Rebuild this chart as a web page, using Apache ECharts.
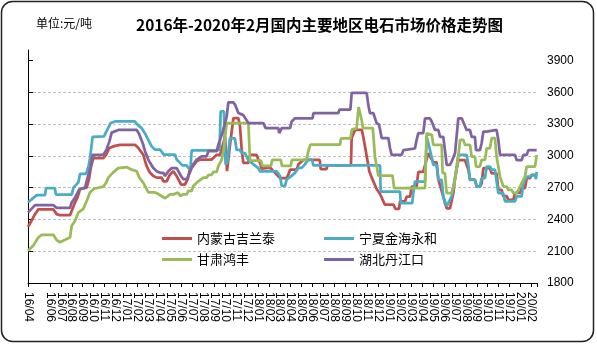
<!DOCTYPE html>
<html>
<head>
<meta charset="utf-8">
<script src="https://cdn.jsdelivr.net/npm/echarts@6/dist/echarts.min.js"></script>
<style>html,body{margin:0;padding:0;background:#fff;}#c{width:597px;height:344px;}</style>
</head>
<body>
<div id="c"></div>
<script>
// month tick labels (index 0 = 2016/04)
var monthLabels = ['16/04','16/05','16/06','16/07','16/08','16/09','16/10','16/11','16/12',
  '17/01','17/02','17/03','17/04','17/05','17/06','17/07','17/08','17/09','17/10','17/11','17/12',
  '18/01','18/02','18/03','18/04','18/05','18/06','18/07','18/08','18/09','18/10','18/11','18/12',
  '19/01','19/02','19/03','19/04','19/05','19/06','19/07','19/08','19/09','19/10','19/11','19/12',
  '20/01','20/02'];
var seriesNames = ['内蒙古吉兰泰','宁夏金海永和','甘肃鸿丰','湖北丹江口'];
// [month position since 2016/04, price 元/吨]
var neimeng = [[0,2330],[0.33,2390],[0.64,2450],[0.94,2495],[2.31,2495],[2.62,2450],[2.92,2440],[3.84,2440],[3.99,2480],[4.29,2560],[4.51,2605],[4.75,2685],[5.36,2700],[5.57,2780],[5.75,2895],[5.97,2980],[6.88,2980],[7.13,3010],[7.43,3075],[7.95,3095],[8.41,3105],[9.77,3105],[10.08,3075],[10.54,3010],[10.78,2920],[10.99,2870],[11.15,2840],[11.45,2810],[11.76,2795],[12.21,2795],[12.37,2760],[12.67,2760],[12.97,2825],[13.28,2855],[13.58,2810],[13.73,2780],[13.98,2730],[14.34,2730],[14.59,2780],[14.8,2880],[15.1,2905],[15.26,2905],[15.41,2950],[15.71,2965],[16.78,2965],[16.93,2980],[17.24,3010],[17.54,3010],[17.85,3120],[18.0,3185],[18.1,3185],[18.18,2856],[18.3,2856],[18.45,3100],[18.76,3356],[19.22,3356],[19.37,3280],[19.52,3059],[19.67,2934],[20.13,2934],[20.3,3010],[20.89,3010],[21.04,2966],[21.2,2934],[21.34,2880],[22.11,2890],[22.57,2840],[23.02,2790],[23.63,2790],[23.79,2825],[23.94,2870],[24.55,2870],[24.7,2920],[25.16,2962],[26.65,2962],[26.74,2875],[27.27,2875],[27.35,2910],[29.5,2910],[29.57,3170],[29.88,3245],[30.5,3245],[30.65,3170],[30.94,3000],[31.18,2855],[31.4,2795],[31.55,2795],[31.86,2685],[32.16,2640],[32.6,2540],[33.4,2540],[33.55,2500],[33.9,2500],[33.98,2570],[34.44,2570],[34.59,2615],[34.9,2615],[35.05,2710],[35.5,2710],[35.66,2850],[36.11,2850],[36.57,3025],[36.72,3025],[37.03,2940],[37.33,2940],[37.49,2775],[37.64,2775],[37.94,2615],[38.09,2555],[38.25,2505],[38.55,2505],[38.86,2650],[39.01,2790],[39.31,2960],[39.92,2960],[40.23,2870],[40.38,2775],[40.83,2775],[40.99,2710],[41.29,2710],[41.44,2740],[41.6,2885],[42.2,2885],[42.36,2835],[42.81,2835],[42.97,2680],[43.27,2680],[43.42,2620],[43.73,2620],[43.88,2585],[44.34,2585],[44.49,2650],[44.95,2650],[45.1,2695],[45.4,2695],[45.56,2790],[45.86,2790],[46.01,2820],[46.47,2820]];
var ningxia = [[0,2560],[0.33,2590],[0.8,2630],[1.55,2630],[1.65,2695],[2.45,2695],[2.55,2635],[4.0,2635],[4.15,2700],[4.6,2750],[4.75,2830],[5.3,2830],[5.5,2890],[5.65,2965],[5.9,3180],[6.95,3185],[7.15,3230],[7.35,3270],[7.55,3310],[7.95,3325],[9.75,3325],[10,3295],[10.4,3260],[10.7,3210],[11,3150],[11.3,3090],[11.6,3060],[12.06,3060],[12.4,3012],[13.43,3012],[13.58,2966],[13.73,2966],[13.89,2934],[14.1,2910],[14.5,2910],[14.65,2887],[14.85,2887],[14.95,3053],[17.3,3053],[17.5,3060],[17.6,3420],[17.9,3420],[18.05,2920],[18.2,2940],[18.45,3165],[18.9,3165],[19.06,3056],[19.36,3056],[19.52,3027],[19.82,3027],[20.13,2960],[20.6,2920],[21.04,2885],[21.19,2855],[22.72,2855],[23.02,2810],[23.18,2716],[23.48,2716],[23.63,2778],[23.94,2800],[24.39,2840],[24.7,2887],[25.0,2887],[25.3,2920],[25.6,2966],[25.95,2966],[26.07,2910],[32.16,2910],[32.22,2662],[33.98,2662],[34.06,2555],[35.1,2555],[35.2,2650],[35.35,2758],[36.27,2758],[36.42,3182],[36.57,3182],[36.72,3057],[37.03,2915],[37.33,2915],[37.49,2774],[37.79,2774],[37.94,2617],[38.25,2523],[38.4,2523],[38.7,2617],[39.01,2790],[39.16,2790],[39.31,3009],[40.07,3009],[40.23,2915],[40.38,2774],[40.83,2774],[40.99,2711],[41.29,2711],[41.44,2790],[41.75,2790],[41.9,2900],[42.2,2900],[42.36,2870],[42.66,2870],[42.81,2758],[42.97,2648],[43.42,2648],[43.58,2570],[44.49,2570],[44.64,2617],[45.1,2617],[45.25,2743],[45.56,2805],[45.86,2805],[46.01,2821],[46.32,2821],[46.4,2780],[46.47,2850]];
var gansu = [[0,2105],[0.49,2155],[0.94,2230],[1.25,2255],[2.31,2255],[2.62,2205],[2.92,2185],[3.53,2215],[3.84,2230],[3.99,2340],[4.29,2385],[4.6,2465],[5.05,2500],[5.36,2575],[5.66,2655],[6.03,2690],[6.88,2710],[7.13,2745],[7.34,2795],[7.73,2840],[8.25,2885],[9.01,2895],[9.47,2870],[9.93,2855],[10.17,2795],[10.54,2745],[10.99,2655],[11.6,2655],[11.9,2640],[12.52,2600],[12.67,2590],[12.97,2637],[13.28,2637],[13.43,2653],[13.73,2653],[13.89,2622],[14.04,2622],[14.19,2637],[14.5,2637],[14.65,2669],[14.95,2669],[15.1,2716],[15.56,2760],[16.02,2795],[16.32,2795],[16.48,2820],[16.78,2820],[16.93,2850],[17.24,2850],[17.39,2903],[17.54,2903],[17.7,2966],[17.85,3044],[18.0,3169],[18.15,3309],[20.13,3309],[20.28,2955],[21.3,2955],[21.4,2905],[22.2,2905],[22.3,2962],[23.1,2962],[23.2,2905],[24.0,2905],[24.1,2962],[25.45,2962],[25.6,3044],[25.8,3106],[28.5,3106],[28.6,3165],[29.45,3165],[29.6,3250],[30.02,3260],[30.2,3460],[30.33,3460],[30.5,3330],[30.6,3262],[31.5,3262],[31.7,2990],[31.85,2905],[32.0,2815],[33.3,2815],[33.45,2695],[36.27,2695],[36.42,3214],[36.57,3200],[36.88,3200],[37.03,3104],[37.79,3104],[37.88,2837],[38.09,2837],[38.25,2648],[38.7,2648],[38.8,2633],[39.01,2774],[39.31,2994],[39.47,3151],[39.77,3151],[39.92,3104],[40.38,3104],[40.53,2994],[40.83,2994],[40.93,2900],[41.29,2900],[41.44,2962],[41.75,2962],[41.9,3072],[42.2,3072],[42.36,3167],[42.66,3167],[42.81,2994],[42.97,2994],[43.12,2805],[43.27,2805],[43.42,2711],[43.73,2711],[43.88,2680],[44.19,2680],[44.34,2648],[44.64,2648],[44.8,2680],[45.1,2743],[45.25,2743],[45.4,2805],[45.56,2900],[46.32,2900],[46.47,3009]];
var hubei = [[0,2465],[0.64,2535],[2.31,2535],[2.62,2510],[3.84,2510],[3.99,2560],[4.29,2605],[4.69,2685],[5.21,2700],[5.42,2785],[5.72,2895],[5.91,3010],[6.88,3010],[7.13,3050],[7.43,3135],[7.64,3220],[8.25,3245],[9.93,3245],[10.14,3210],[10.48,3120],[10.69,3045],[10.99,2965],[11.15,2935],[11.45,2885],[11.76,2855],[12.06,2840],[12.37,2840],[12.52,2810],[12.82,2855],[13.13,2885],[13.58,2885],[13.73,2870],[13.98,2810],[14.19,2780],[14.5,2780],[14.65,2810],[14.89,2870],[15.1,2920],[15.41,2965],[15.87,2995],[16.32,2995],[16.48,3045],[17.24,3045],[17.39,3105],[17.75,3215],[18.15,3370],[18.3,3505],[18.76,3505],[18.91,3485],[19.22,3405],[19.67,3385],[20.13,3310],[21.5,3310],[21.71,3262],[22.87,3262],[22.95,3216],[23.1,3216],[23.18,3262],[23.94,3262],[24.09,3325],[24.39,3355],[26.0,3355],[26.07,3403],[28.35,3403],[28.45,3438],[29.45,3438],[29.57,3595],[30.94,3595],[31.09,3480],[31.24,3403],[31.55,3403],[31.85,3309],[32.05,3300],[32.16,3250],[32.31,3169],[32.92,3169],[33.07,3075],[33.22,3010],[34.14,3010],[34.29,3055],[35.35,3070],[35.5,3150],[35.66,3215],[36.11,3215],[36.27,3355],[36.72,3355],[36.88,3325],[37.18,3245],[37.49,3245],[37.64,3180],[37.94,3180],[38.09,3055],[38.25,2915],[38.55,2915],[38.7,2945],[38.86,2945],[39.01,3025],[39.16,3025],[39.31,3355],[39.62,3355],[39.77,3340],[40.07,3245],[40.38,3245],[40.53,3180],[40.83,3180],[40.93,3055],[41.29,3055],[41.44,3120],[41.6,3230],[41.9,3230],[42.05,3245],[42.81,3245],[42.97,3150],[43.12,3010],[44.49,3010],[44.64,2960],[45.1,2960],[45.25,3010],[45.56,3010],[45.71,3055],[46.47,3055]];
var yTicks = [1800,2100,2400,2700,3000,3300,3600,3900];
var colors = ['#C0504D','#4BACC6','#9BBB59','#8064A2'];

var chart = echarts.init(document.getElementById('c'), null, {renderer:'canvas', width:597, height:344});
var labelFont = {fontFamily:'Liberation Sans', fontSize:12, color:'#000'};
function mkSeries(name, data, color){
  return {name:name, type:'line', data:data, showSymbol:false, symbol:'none', color:color,
    lineStyle:{width:2.75, color:color}, animation:false};
}
chart.setOption({
  backgroundColor:'#fff',
  animation:false,
  graphic:[{type:'rect', shape:{x:1.5,y:1.5,width:592,height:340,r:11},
    style:{fill:'none', stroke:'#222', lineWidth:1.5}, z:-1}],
  title:[
    {text:'2016年-2020年2月国内主要地区电石市场价格走势图', left:136, top:17, padding:0,
     textStyle:{fontFamily:'Noto Sans CJK SC', fontWeight:'bold', fontSize:15.5, color:'#000'}},
    {text:'单位:元/吨', left:36, top:17, padding:0,
     textStyle:{fontFamily:'Noto Sans CJK SC', fontWeight:'normal', fontSize:12, color:'#000'}}
  ],
  legend:[
    {data:[seriesNames[0], seriesNames[2]], orient:'vertical', left:162, top:232, padding:0,
     itemWidth:30, itemHeight:3, itemGap:8, icon:'rect',
     textStyle:{fontFamily:'Noto Sans CJK SC', fontSize:13, color:'#000'}},
    {data:[seriesNames[1], seriesNames[3]], orient:'vertical', left:324, top:232, padding:0,
     itemWidth:30, itemHeight:3, itemGap:8, icon:'rect',
     textStyle:{fontFamily:'Noto Sans CJK SC', fontSize:13, color:'#000'}}
  ],
  grid:{left:28, right:60, top:50, bottom:61},
  xAxis:{type:'value', min:0, max:46.5, interval:1,
    axisLine:{show:true, lineStyle:{color:'#000', width:1}},
    axisTick:{show:true, inside:false, length:4, lineStyle:{color:'#000'}},
    splitLine:{show:false},
    axisLabel:Object.assign({rotate:-90, margin:9, interval:0, showMinLabel:true, showMaxLabel:true, hideOverlap:false,
      formatter:function(v){ return (Math.abs(v-Math.round(v))<1e-6 && monthLabels[Math.round(v)]) ? monthLabels[Math.round(v)] : ''; }}, labelFont)
  },
  yAxis:[
    {type:'value', position:'left', min:1800, max:4000, interval:300,
     axisLine:{show:true, lineStyle:{color:'#000', width:1}},
     axisTick:{show:true, inside:true, length:5, lineStyle:{color:'#000'}, customValues:yTicks},
     axisLabel:{show:false},
     splitLine:{show:true, showMaxLine:false, lineStyle:{color:'#BEBEBE', type:[3,2], width:1}}},
    {type:'value', position:'right', min:1800, max:4000, interval:300,
     axisLine:{show:false}, axisTick:{show:false}, splitLine:{show:false},
     axisLabel:Object.assign({margin:10, showMaxLabel:false,
       formatter:function(v){ return yTicks.indexOf(v) >= 0 ? String(v) : ''; }}, labelFont)}
  ],
  series:[
    mkSeries(seriesNames[0], neimeng, colors[0]),
    mkSeries(seriesNames[1], ningxia, colors[1]),
    mkSeries(seriesNames[2], gansu, colors[2]),
    mkSeries(seriesNames[3], hubei, colors[3])
  ]
});
</script>
</body>
</html>
